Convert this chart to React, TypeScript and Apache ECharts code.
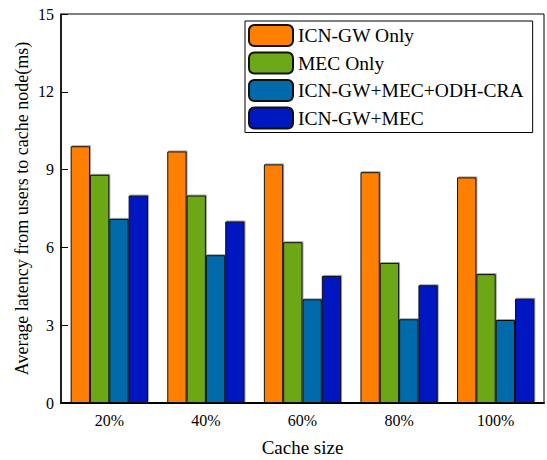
import React, { useEffect, useRef } from "react";
import * as echarts from "echarts";

const categories = ["20%", "40%", "60%", "80%", "100%"];
const seriesNames = ["ICN-GW Only", "MEC Only", "ICN-GW+MEC+ODH-CRA", "ICN-GW+MEC"];
const icnGwOnly = [9.9, 9.7, 9.2, 8.9, 8.7];
const mecOnly = [8.8, 8.0, 6.2, 5.4, 4.97];
const odhCra = [7.1, 5.7, 4.0, 3.23, 3.2];
const icnGwMec = [8.0, 7.0, 4.9, 4.54, 4.02];
const colors = ["#FF8000", "#6CA818", "#006AAA", "#0018C0"];

const FONT = "Liberation Serif";

export default function App() {
  const ref = useRef<HTMLDivElement>(null);
  useEffect(() => {
    if (!ref.current) return;
    const chart = echarts.init(ref.current, undefined, { renderer: "svg" });
    const data = [icnGwOnly, mecOnly, odhCra, icnGwMec];
    chart.setOption({
      animation: false,
      textStyle: { fontFamily: FONT, color: "#000" },
      grid: {
        left: 61,
        right: 3,
        top: 14,
        bottom: 57,
        outerBoundsMode: "none",
        containLabel: false,
        show: true,
        borderColor: "#000",
        borderWidth: 1,
      },
      legend: {
        left: 245,
        top: 21,
        orient: "vertical",
        itemWidth: 44,
        itemHeight: 21,
        itemGap: 4.5,
        padding: [3, 9, 3, 3],
        borderColor: "#000",
        borderWidth: 1,
        backgroundColor: "#fff",
        textStyle: { fontFamily: FONT, fontSize: 19.5, color: "#000" },
        data: seriesNames,
      },
      xAxis: {
        type: "category",
        data: categories,
        name: "Cache size",
        nameLocation: "middle",
        nameGap: 35,
        nameMoveOverlap: false,
        nameTextStyle: { fontFamily: FONT, fontSize: 19, color: "#000" },
        axisLine: { lineStyle: { color: "#000", width: 2 } },
        axisTick: { show: false },
        axisLabel: { fontFamily: FONT, fontSize: 16, color: "#000", margin: 9 },
      },
      yAxis: {
        type: "value",
        min: 0,
        max: 15,
        interval: 3,
        name: "Average latency from users to cache node(ms)",
        nameLocation: "middle",
        nameGap: 30,
        nameMoveOverlap: false,
        nameTextStyle: { fontFamily: FONT, fontSize: 18, color: "#000" },
        axisLine: { show: true, lineStyle: { color: "#000", width: 1.5 } },
        axisTick: { show: true, inside: true, length: 7, lineStyle: { color: "#000" } },
        axisLabel: { fontFamily: FONT, fontSize: 16, color: "#000", margin: 7 },
        splitLine: { show: false },
      },
      series: seriesNames.map((name, i) => ({
        name,
        type: "bar",
        data: data[i],
        barGap: "0%",
        barCategoryGap: "20%",
        itemStyle: {
          color: colors[i],
          borderColor: "#111",
          borderWidth: 1,
          shadowColor: "rgba(0,0,0,0.35)",
          shadowOffsetX: 1,
          shadowOffsetY: -1,
        },
      })),
    });
    return () => chart.dispose();
  }, []);
  return <div ref={ref} style={{ width: 547, height: 460, position: "absolute", left: 0, top: 0 }} />;
}
